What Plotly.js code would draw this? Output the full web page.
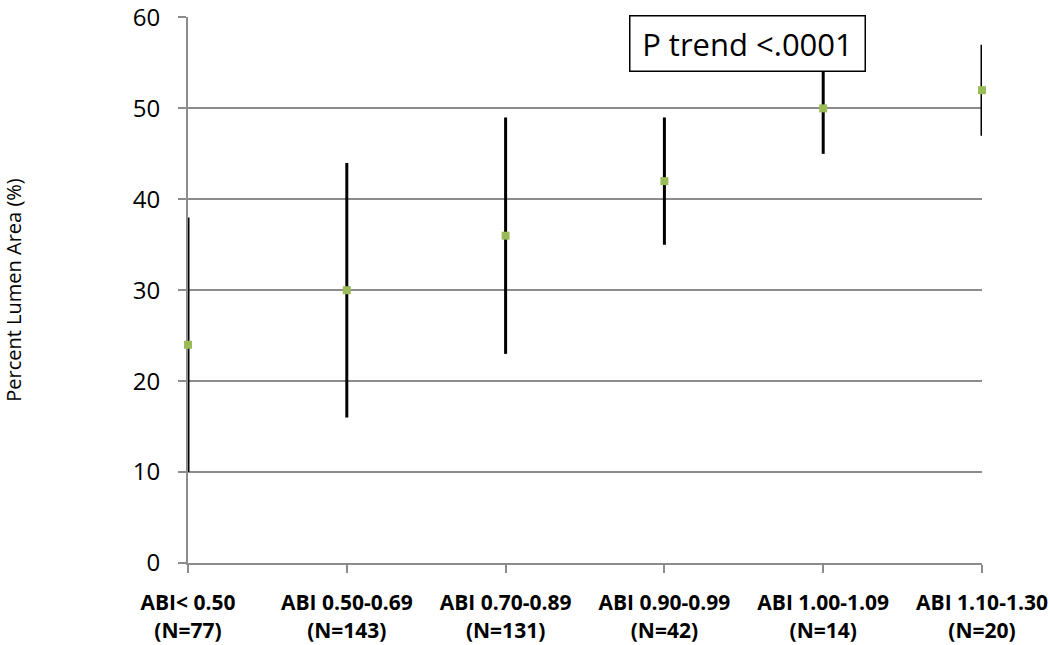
<!DOCTYPE html>
<html>
<head>
<meta charset="utf-8">
<script src="https://cdn.plot.ly/plotly-3.0.1.min.js"></script>
<style>
  html, body { margin: 0; padding: 0; background: #fff; }
  #chart { width: 1050px; height: 645px; }
</style>
</head>
<body>
<div id="chart"></div>
<script>
// ABI groups and percent lumen area (mean with range)
const groups = ["ABI< 0.50", "ABI 0.50-0.69", "ABI 0.70-0.89", "ABI 0.90-0.99", "ABI 1.00-1.09", "ABI 1.10-1.30"];
const counts = ["(N=77)", "(N=143)", "(N=131)", "(N=42)", "(N=14)", "(N=20)"];
const meanPct = [24, 30, 36, 42, 50, 52];
const upperPct = [38, 44, 49, 49, 55, 57];
const lowerPct = [10, 16, 23, 35, 45, 47];

const xs = groups.map((g, i) => i);
const tickText = groups.map((g, i) => "<b>" + g + "</b><br><b>" + counts[i] + "</b>");

const trace = {
  type: "scatter",
  mode: "markers",
  x: xs,
  y: meanPct,
  cliponaxis: false,
  marker: { symbol: "square", size: 8, color: "#9BBB59" },
  error_y: {
    type: "data",
    symmetric: false,
    array: upperPct.map((u, i) => u - meanPct[i]),
    arrayminus: meanPct.map((m, i) => m - lowerPct[i]),
    color: "#000000",
    thickness: 3,
    width: 0
  },
  hoverinfo: "skip"
};

const layout = {
  width: 1050,
  height: 645,
  margin: { l: 188, r: 68, t: 17, b: 82 },
  paper_bgcolor: "#ffffff",
  plot_bgcolor: "#ffffff",
  showlegend: false,
  font: { family: "Open Sans, sans-serif", color: "#000000" },
  xaxis: {
    range: [0, 5],
    tickvals: xs,
    ticktext: tickText,
    showgrid: false,
    zeroline: false,
    showline: true,
    layer: "below traces",
    linecolor: "#8c8c8c",
    linewidth: 2,
    ticks: "outside",
    ticklen: 8,
    tickwidth: 2,
    tickcolor: "#8c8c8c",
    tickfont: { family: "Open Sans, sans-serif", size: 21, color: "#000" },
    ticklabelstandoff: 12,
    ticklabeloverflow: "allow",
    automargin: false,
    fixedrange: true
  },
  yaxis: {
    range: [0, 60.05],
    tickvals: [0, 10, 20, 30, 40, 50, 60],
    showgrid: true,
    gridcolor: "#8c8c8c",
    gridwidth: 2,
    zeroline: false,
    showline: true,
    layer: "below traces",
    linecolor: "#8c8c8c",
    linewidth: 2,
    ticks: "outside",
    ticklen: 8,
    tickwidth: 2,
    tickcolor: "#8c8c8c",
    tickfont: { family: "Open Sans, sans-serif", size: 24, color: "#000" },
    ticklabelstandoff: 13,
    ticklabeloverflow: "allow",
    title: {
      text: "Percent Lumen Area (%)",
      font: { family: "Open Sans, sans-serif", size: 20, color: "#000" },
      standoff: 106
    },
    automargin: false,
    fixedrange: true
  },
  annotations: [{
    xref: "paper",
    yref: "paper",
    x: 0.705,
    y: 0.952,
    xanchor: "center",
    yanchor: "middle",
    text: "P trend <.0001",
    showarrow: false,
    font: { family: "Open Sans, sans-serif", size: 31, color: "#000" },
    bgcolor: "#ffffff",
    bordercolor: "#000000",
    borderwidth: 1.5,
    width: 232,
    height: 52
  }]
};

Plotly.newPlot("chart", [trace], layout, { displayModeBar: false, staticPlot: true });
</script>
</body>
</html>
